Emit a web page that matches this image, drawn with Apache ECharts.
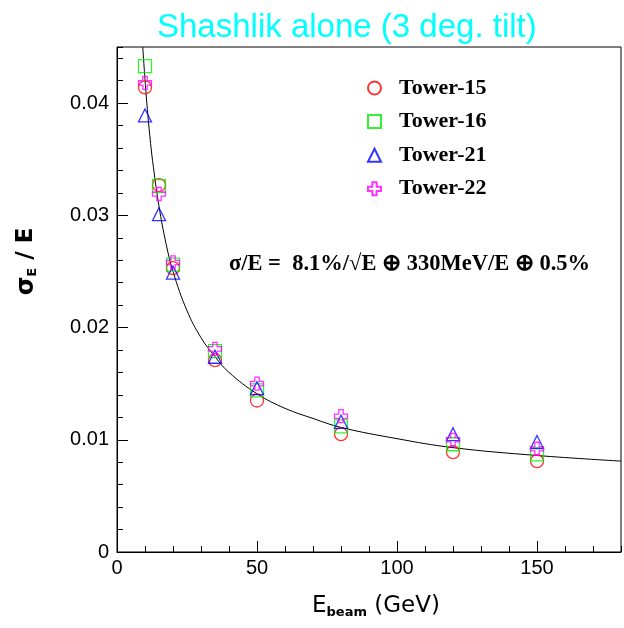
<!DOCTYPE html>
<html>
<head>
<meta charset="utf-8">
<script src="https://cdn.jsdelivr.net/npm/echarts@6/dist/echarts.min.js"></script>
<style>html,body{margin:0;padding:0;background:#fff}#c{width:624px;height:628px}</style>
</head>
<body>
<div id="c"></div>
<script>
// Beam energies (GeV)
const energies = [10, 15, 20, 35, 50, 80, 120, 150];
// sigma_E / E for each tower
const tower15 = [0.0414, 0.0327, 0.0253, 0.0171, 0.0135, 0.0105, 0.0089, 0.0081];
const tower16 = [0.0433, 0.0326, 0.0256, 0.0179, 0.0144, 0.0112, 0.0096, 0.0087];
const tower21 = [0.0389, 0.0301, 0.0249, 0.0174, 0.0146, 0.0116, 0.0105, 0.0098];
const tower22 = [0.0418, 0.0319, 0.0258, 0.0181, 0.0150, 0.0121, 0.0100, 0.0092];
// Fit curve, points
const fitE   = [9.2, 10, 11, 12, 13, 15, 17.5, 20, 25, 30, 35, 40, 50, 60, 70, 80, 100, 120, 150, 180];
const fitVal = [0.0450, 0.0421, 0.0390, 0.0364, 0.0343, 0.0308, 0.0275, 0.0250, 0.0215, 0.0191, 0.0174, 0.0160, 0.0141, 0.0128, 0.0119, 0.0111, 0.0101, 0.0093, 0.0086, 0.0081];
const seriesNames = ['Tower-15', 'Tower-16', 'Tower-21', 'Tower-22'];
const seriesValues = [tower15, tower16, tower21, tower22];

const colors = ['#ff0000', '#00ee00', '#0000ff', '#ff00ff'];
const symbols = ['circle', 'rect', 'triangle',
  'path://M4,0 L8,0 L8,4 L12,4 L12,8 L8,8 L8,12 L4,12 L4,8 L0,8 L0,4 L4,4 Z'];

const chart = echarts.init(document.getElementById('c'), null, {renderer: 'canvas'});

const pairs = (xs, ys) => xs.map((x, i) => [x, ys[i]]);

const scatter = seriesNames.map((name, k) => ({
  name: name,
  type: 'scatter',
  xAxisIndex: 0, yAxisIndex: 0,
  symbol: symbols[k],
  symbolSize: 13,
  itemStyle: {color: 'rgba(0,0,0,0)', borderColor: colors[k], borderWidth: 1.3},
  emphasis: {disabled: true},
  data: pairs(energies, seriesValues[k]),
  z: 3
}));

const tickFont = {fontFamily: 'Liberation Sans', fontSize: 20, color: '#000'};

chart.setOption({
  animation: false,
  backgroundColor: '#fff',
  title: {
    text: 'Shashlik alone (3 deg. tilt)',
    left: 152, top: 6,
    textStyle: {color: '#00ffff', fontFamily: 'Liberation Sans', fontSize: 33, fontWeight: 'normal'}
  },
  grid: {left: 117, right: 3, top: 47, bottom: 76, show: true, borderColor: '#000', borderWidth: 1, backgroundColor: 'rgba(0,0,0,0)'},
  legend: {
    orient: 'vertical',
    left: 362, top: 72,
    itemWidth: 13, itemHeight: 13, itemGap: 11.6,
    selectedMode: false,
    textStyle: {fontFamily: 'Liberation Serif', fontWeight: 'bold', fontSize: 22, color: '#000', lineHeight: 20, padding: [0, 0, 0, 13]},
    data: seriesNames
  },
  xAxis: [{
    type: 'value', min: 0, max: 180, interval: 50,
    position: 'bottom',
    name: '{e|E}{sub|beam}{n| (GeV)}',
    nameLocation: 'middle', nameGap: 43,
    nameTextStyle: {
      padding: [0, 0, 0, 14],
      rich: {
        e: {fontFamily: 'DejaVu Sans', fontSize: 23, lineHeight: 24, verticalAlign: 'top', color: '#000'},
        n: {fontFamily: 'DejaVu Sans', fontSize: 23, lineHeight: 24, verticalAlign: 'top', color: '#000'},
        sub: {fontFamily: 'DejaVu Sans', fontSize: 13, fontWeight: 'bold', lineHeight: 12, verticalAlign: 'bottom', color: '#000'}
      }
    },
    axisLine: {show: true, lineStyle: {color: '#000', width: 1}},
    axisTick: {show: true, inside: true, length: 11, lineStyle: {color: '#000'}},
    axisLabel: Object.assign({margin: 6, showMaxLabel: false}, tickFont),
    splitLine: {show: false}
  }, {
    type: 'value', min: 0, max: 180, interval: 10,
    position: 'bottom',
    axisLine: {show: false},
    axisTick: {show: true, inside: true, length: 6, lineStyle: {color: '#000'}},
    axisLabel: {show: false},
    splitLine: {show: false}
  }],
  yAxis: [{
    type: 'value', min: 0, max: 0.045, interval: 0.01,
    position: 'left',
    name: '{s|σ}{sub|E}{n| / E}',
    nameLocation: 'middle', nameGap: 78, nameRotate: 90,
    nameTextStyle: {
      padding: [0, 0, 0, 76],
      rich: {
        s: {fontFamily: 'DejaVu Sans', fontSize: 24, fontWeight: 'bold', lineHeight: 24, verticalAlign: 'top', color: '#000'},
        n: {fontFamily: 'DejaVu Sans', fontSize: 23, fontWeight: 'bold', lineHeight: 24, verticalAlign: 'top', color: '#000'},
        sub: {fontFamily: 'DejaVu Sans', fontSize: 13, fontWeight: 'bold', lineHeight: 12, verticalAlign: 'bottom', color: '#000'}
      }
    },
    axisLine: {show: true, lineStyle: {color: '#000', width: 1}},
    axisTick: {show: true, inside: true, length: 11, lineStyle: {color: '#000'}},
    axisLabel: Object.assign({margin: 8, showMaxLabel: false,
      formatter: v => v === 0 ? '0' : v.toFixed(2)}, tickFont),
    splitLine: {show: false}
  }, {
    type: 'value', min: 0, max: 0.045, interval: 0.002,
    position: 'left', offset: 0,
    axisLine: {show: false},
    axisTick: {show: true, inside: true, length: 6, lineStyle: {color: '#000'}},
    axisLabel: {show: false},
    splitLine: {show: false}
  }],
  graphic: [{
    type: 'text',
    left: 229, top: 253,
    style: {
      text: 'σ/E =  8.1%/√E ⊕ 330MeV/E ⊕ 0.5%',
      font: 'bold 22.5px "Liberation Serif"',
      fill: '#000'
    }
  }],
  series: [{
    name: 'fit',
    type: 'line',
    xAxisIndex: 0, yAxisIndex: 0,
    data: pairs(fitE, fitVal),
    smooth: 0.4,
    showSymbol: false,
    symbol: 'none',
    lineStyle: {color: '#000', width: 1},
    emphasis: {disabled: true},
    clip: true,
    z: 2
  }].concat(scatter)
});
</script>
</body>
</html>
